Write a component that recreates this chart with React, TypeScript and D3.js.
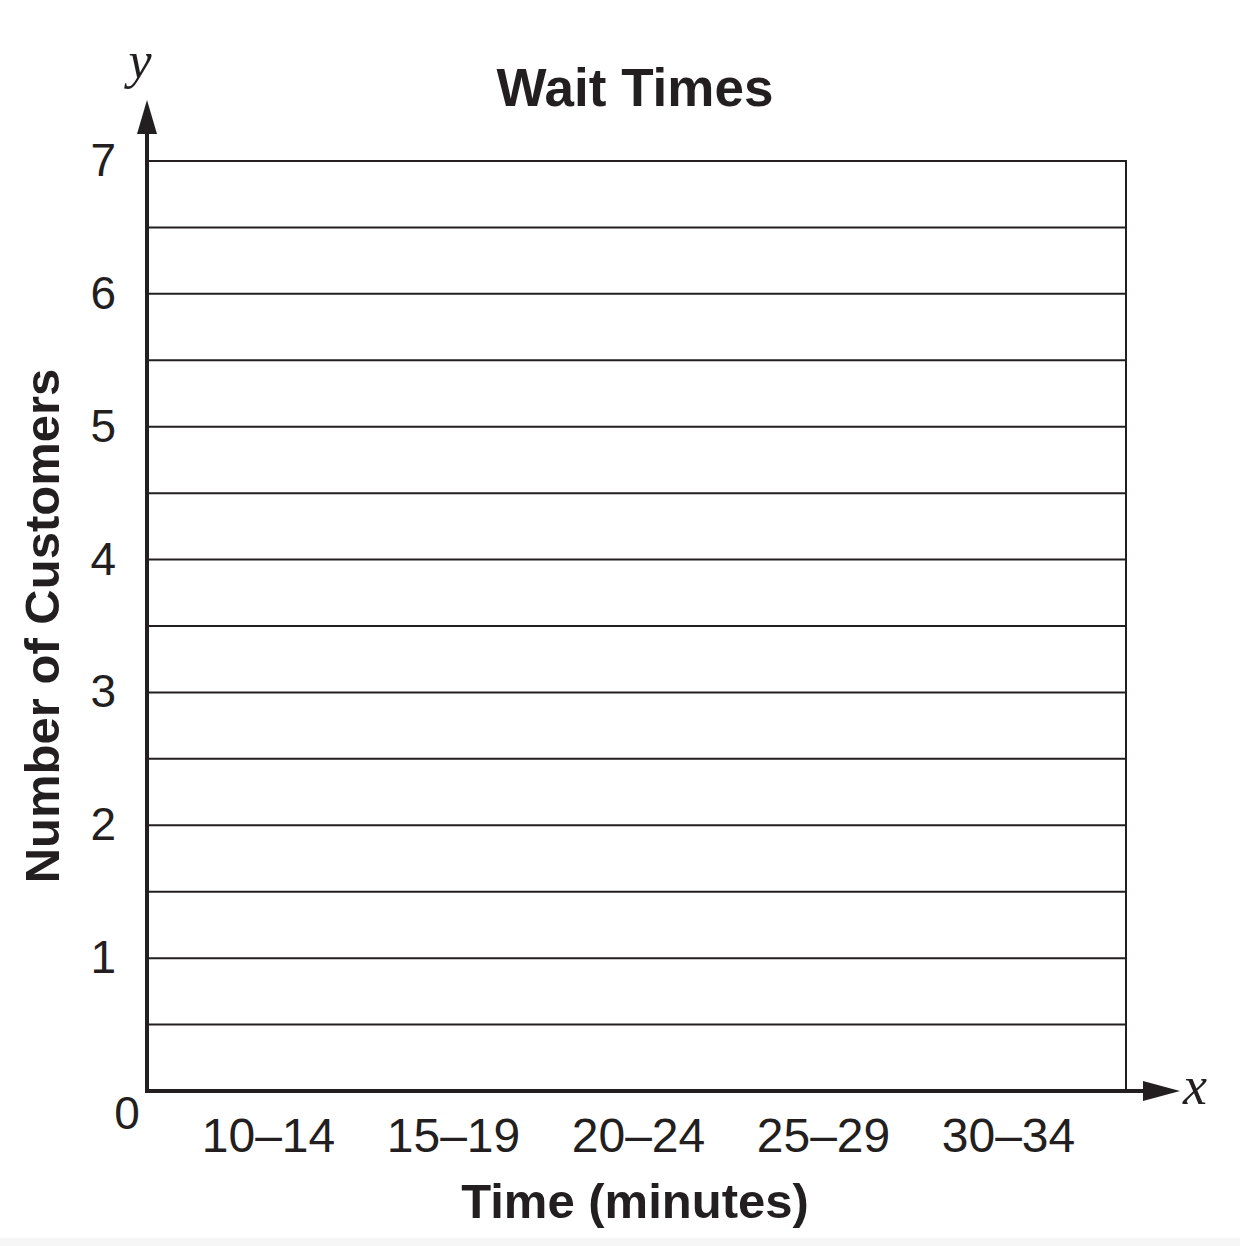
import React from "react";
import * as d3 from "d3";

const categories = ["10–14", "15–19", "20–24", "25–29", "30–34"];
const yTicks = [0, 1, 2, 3, 4, 5, 6, 7];
const gridValues = [0.5, 1, 1.5, 2, 2.5, 3, 3.5, 4, 4.5, 5, 5.5, 6, 6.5, 7];
const title = "Wait Times";
const xTitle = "Time (minutes)";
const yTitle = "Number of Customers";

export default function App() {
  const W = 1240, H = 1246;
  const left = 147, right = 1126, top = 161, bottom = 1091;
  const y = d3.scaleLinear().domain([0, 7]).range([bottom, top]);
  const x = d3.scaleBand<string>().domain(categories).range([176, 1101]);
  const sans = "'Liberation Sans', Arial, sans-serif";
  const serif = "'Liberation Serif', 'Times New Roman', serif";
  const ink = "#231f20";
  return (
    <svg width={W} height={H} style={{ position: "absolute", left: 0, top: 0, background: "#fff" }}>
      {gridValues.map((v) => (
        <line key={v} x1={left} x2={right} y1={y(v)} y2={y(v)} stroke={ink} strokeWidth={2} />
      ))}
      <line x1={right} x2={right} y1={top - 1} y2={bottom} stroke={ink} strokeWidth={2} />
      {/* y axis */}
      <line x1={left} x2={left} y1={bottom + 2} y2={130} stroke={ink} strokeWidth={4} />
      <path d={`M${left},100 L${left - 10},134 L${left + 10},134 Z`} fill={ink} />
      {/* x axis */}
      <line x1={left - 2} x2={1150} y1={bottom} y2={bottom} stroke={ink} strokeWidth={4} />
      <path d={`M1180,${bottom} L1143,${bottom - 10} L1143,${bottom + 10} Z`} fill={ink} />
      <text x={140} y={78} fontFamily={serif} fontStyle="italic" fontSize={52} fill={ink} textAnchor="middle">y</text>
      <text x={1195} y={1104} fontFamily={serif} fontStyle="italic" fontSize={54} fill={ink} textAnchor="middle">x</text>
      {yTicks.filter((t) => t > 0).map((t) => (
        <text key={t} x={116} y={y(t) + 15} fontFamily={sans} fontSize={46} fill={ink} textAnchor="end">{t}</text>
      ))}
      <text x={127} y={1129} fontFamily={sans} fontSize={46} fill={ink} textAnchor="middle">0</text>
      {categories.map((c) => (
        <text key={c} x={(x(c) as number) + x.bandwidth() / 2} y={1152} fontFamily={sans} fontSize={48} fill={ink} textAnchor="middle">{c}</text>
      ))}
      <text x={635} y={106} fontFamily={sans} fontWeight="bold" fontSize={53} fill={ink} textAnchor="middle">{title}</text>
      <text x={635} y={1218} fontFamily={sans} fontWeight="bold" fontSize={49} fill={ink} textAnchor="middle">{xTitle}</text>
      <text transform={`translate(59,626) rotate(-90)`} fontFamily={sans} fontWeight="bold" fontSize={49} fill={ink} textAnchor="middle">{yTitle}</text>
      <rect x={0} y={1238} width={W} height={8} fill="#f6f6f6" />
    </svg>
  );
}
